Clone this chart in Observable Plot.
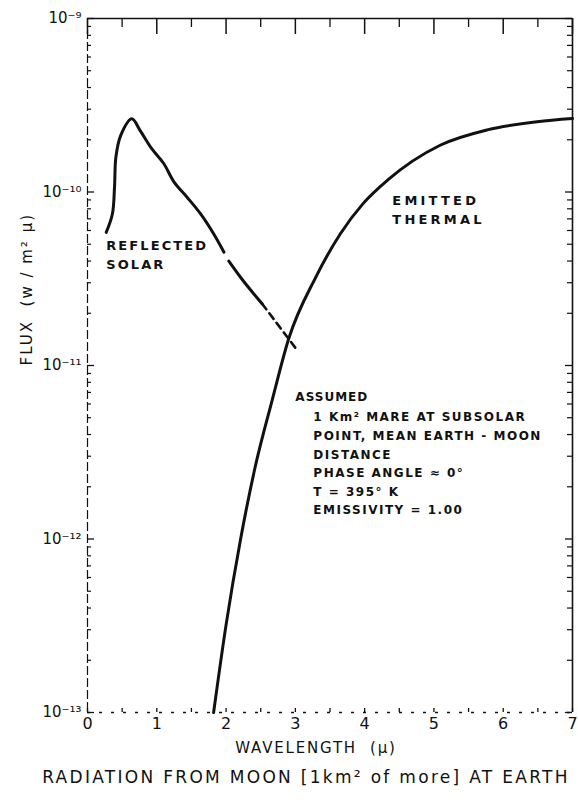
<!DOCTYPE html>
<html>
<head>
<meta charset="utf-8">
<script src="https://cdn.jsdelivr.net/npm/d3@7"></script>
<script src="https://cdn.jsdelivr.net/npm/@observablehq/plot@0.6"></script>
<style>
  body { margin: 0; background: #fff; }
  #wrap { position: relative; width: 578px; height: 807px; overflow: hidden; }
  #title { position: absolute; top: 767px; left: 36px; width: 540px; text-align: center;
           font-family: "DejaVu Sans", sans-serif; font-size: 17px; letter-spacing: 2.3px; color: #111; white-space: nowrap; }
</style>
</head>
<body>
<div id="wrap"><div id="chart"></div><div id="title"></div></div>
<script>
// ---- data ----
const xTickValues = [0, 1, 2, 3, 4, 5, 6, 7];
const xTickLabels = ["0", "1", "2", "3", "4", "5", "6", "7"];
const xHalfTicks = [0.5, 1.5, 2.5, 3.5, 4.5, 5.5, 6.5];
const yTickValues = [1e-13, 1e-12, 1e-11, 1e-10, 1e-9];
const yTickLabels = ["10⁻¹³", "10⁻¹²", "10⁻¹¹", "10⁻¹⁰", "10⁻⁹"];

// Emitted thermal (T = 395 K)
const thermalWavelength = [1.82, 2.0, 2.21, 2.42, 2.665, 2.905, 3.29, 3.65, 3.98, 4.33, 5.09, 5.77, 6.49, 7.0];
const thermalFlux = [1e-13, 3.2e-13, 1.0e-12, 2.6e-12, 6.3e-12, 1.43e-11, 3.2e-11, 5.75e-11, 8.6e-11, 1.17e-10, 1.86e-10, 2.28e-10, 2.54e-10, 2.65e-10];

// Reflected solar
const solarWavelength = [0.27, 0.36, 0.39, 0.41, 0.48, 0.64, 0.76, 0.93, 1.10, 1.25, 1.44, 1.63, 1.82, 1.97, 2.04, 2.25, 2.52, 2.52, 3.03];
const solarFlux = [5.85e-11, 7.5e-11, 1.07e-10, 1.59e-10, 2.12e-10, 2.64e-10, 2.26e-10, 1.77e-10, 1.46e-10, 1.14e-10, 9.3e-11, 7.5e-11, 5.75e-11, 4.5e-11, 4.0e-11, 3.07e-11, 2.27e-11, 2.27e-11, 1.22e-11];
const solarSegment = ["a","a","a","a","a","a","a","a","a","a","a","a","a","a","b","b","b","dash","dash"];

const labelText = ["REFLECTED\nSOLAR", "EMITTED\nTHERMAL"];
const labelX = [0.27, 4.40];
const labelY = [4.4e-11, 8.0e-11];

const assumedTitle = "ASSUMED";
const assumedLines = ["1 Km² MARE AT SUBSOLAR", "POINT, MEAN EARTH - MOON", "DISTANCE", "PHASE ANGLE ≈ 0°", "T = 395° K", "EMISSIVITY = 1.00"];
const assumedX = [3.0, 3.26];
const assumedY = [6.55e-12, 2.78e-12];

const xLabel = "WAVELENGTH  (μ)";
const yLabel = "FLUX  (w / m² μ)";
const titleText = "RADIATION  FROM  MOON  [1km² of more]  AT EARTH";

// ---- tables ----
const thermal = thermalWavelength.map((w, i) => ({w, f: thermalFlux[i]}));
const solar = solarWavelength.map((w, i) => ({w, f: solarFlux[i], s: solarSegment[i]}));
const yMinor = d3.scaleLog().domain([1e-13, 1e-9]).ticks().filter(v => !yTickValues.some(t => Math.abs(t - v) / t < 1e-6));

const W = 578, H = 760, mL = 87, mR = 6, mT = 18, mB = 48;
const fw = W - mL - mR, fh = H - mT - mB;
const font = "DejaVu Sans, sans-serif";

const chart = Plot.plot({
  width: W, height: H,
  marginLeft: mL, marginRight: mR, marginTop: mT, marginBottom: mB,
  style: {fontFamily: font, background: "white", color: "#111"},
  x: {domain: [0, 7], label: null},
  y: {type: "log", domain: [1e-13, 1e-9], label: null},
  marks: [
    // frame
    Plot.ruleY([1e-9], {strokeWidth: 1.6}),
    Plot.ruleX([7], {strokeWidth: 1.6}),
    Plot.ruleX([0], {strokeWidth: 1.2, strokeDasharray: "9,3"}),
    Plot.ruleY([1e-13], {strokeWidth: 1.3, strokeDasharray: "3,9"}),
    // top ticks (inward)
    Plot.ruleX(xTickValues, {x: d => d, insetBottom: fh - 16, strokeWidth: 1.5}),
    Plot.ruleX(xHalfTicks, {x: d => d, insetBottom: fh - 9, strokeWidth: 1.3}),
    // bottom ticks (inward)
    Plot.ruleX(xTickValues.concat(xHalfTicks), {x: d => d, insetTop: fh - 4, strokeWidth: 1.3}),
    // left / right ticks (inward)
    Plot.ruleY(yMinor, {y: d => d, insetRight: fw - 4, strokeWidth: 1.2}),
    Plot.ruleY(yMinor, {y: d => d, insetLeft: fw - 5, strokeWidth: 1.2}),
    Plot.ruleY(yTickValues, {y: d => d, insetRight: fw - 7, strokeWidth: 1.3}),
    Plot.ruleY(yTickValues, {y: d => d, insetLeft: fw - 7, strokeWidth: 1.3}),
    // axes labels
    Plot.axisX(xTickValues, {anchor: "bottom", tickSize: 0, tickPadding: 5, fontSize: 16, label: null,
      tickFormat: d => xTickLabels[xTickValues.indexOf(d)]}),
    Plot.axisY(yTickValues, {anchor: "left", tickSize: 0, tickPadding: 6, fontSize: 15, label: null,
      tickFormat: d => yTickLabels[yTickValues.indexOf(d)]}),
    Plot.text([xLabel], {frameAnchor: "bottom", dy: 40, dx: -14, fontSize: 15, text: d => d}),
    Plot.text([yLabel], {frameAnchor: "left", dx: -60, rotate: -90, fontSize: 15, text: d => d}),
    // curves
    Plot.line(thermal, {x: "w", y: "f", strokeWidth: 3, curve: "monotone-x"}),
    Plot.line(solar.filter(d => d.s !== "dash"), {x: "w", y: "f", z: "s", strokeWidth: 3, curve: "catmull-rom"}),
    Plot.line(solar.filter(d => d.s === "dash"), {x: "w", y: "f", strokeWidth: 2.6, strokeDasharray: "7,5"}),
    // annotations
    Plot.text(labelText, {x: (d, i) => labelX[i], y: (d, i) => labelY[i], text: d => d,
      textAnchor: "start", fontSize: 13, fontWeight: "bold", lineHeight: 1.45}),
    Plot.text([assumedTitle], {x: assumedX[0], y: assumedY[0], text: d => d, textAnchor: "start", fontSize: 12, fontWeight: "bold"}),
    Plot.text([assumedLines.join("\n")], {x: assumedX[1], y: assumedY[1], text: d => d,
      textAnchor: "start", fontSize: 12, fontWeight: "bold", lineHeight: 1.55})
  ]
});
document.getElementById("chart").appendChild(chart);

// letter spacing to imitate the hand lettering
d3.select(chart).selectAll("text").each(function() {
  const t = this.textContent;
  let ls = 0;
  if (t.startsWith("REFLECTED")) ls = 2.1;
  else if (t.startsWith("EMITTED")) ls = 3.2;
  else if (t.startsWith("1 Km")) ls = 1.5;
  else if (t === "ASSUMED") ls = 1;
  else if (t === xLabel) ls = 1.8;
  else if (t === yLabel) ls = 2.0;
  if (ls) d3.select(this).attr("letter-spacing", ls);
});
document.getElementById("title").textContent = titleText;
</script>
</body>
</html>
